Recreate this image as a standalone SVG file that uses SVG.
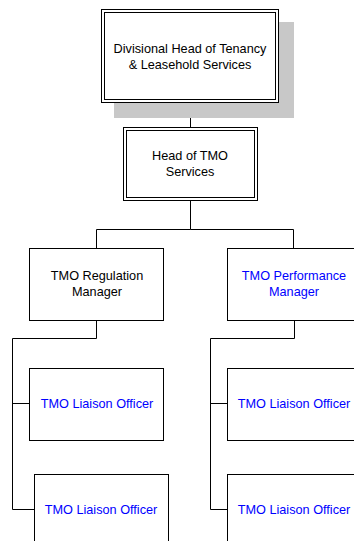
<svg xmlns="http://www.w3.org/2000/svg" width="354" height="541" viewBox="0 0 354 541">
<style>
.box{fill:#fff;stroke:#000;stroke-width:1}
.conn{fill:none;stroke:#000;stroke-width:1}
text{font-family:"Liberation Sans",Arial,sans-serif;font-size:12.7px;text-anchor:middle}
.k{fill:#000}
.b{fill:#0000ff}
</style>
<rect width="354" height="541" fill="#fff"/>
<g id="connectors">
<path class="conn" d="M190.5 103V128"/>
<path class="conn" d="M190.5 200V229.5H96.5V248M190.5 229.5H293.5V248"/>
<path class="conn" d="M96.5 320V338.5H12.5V509.5H34M12.5 403.5H29"/>
<path class="conn" d="M294.5 320V338.5H210.5V509.5H227M210.5 403.5H227"/>
</g>
<g id="n-divisional">
<rect x="114" y="22" width="180" height="96" fill="#c8c8c8"/>
<rect class="box" x="101.5" y="9.5" width="177" height="93"/>
<rect class="box" x="104.5" y="12.5" width="171" height="87"/>
<text class="k" x="190" y="53">Divisional Head of Tenancy</text>
<text class="k" x="190" y="69">&amp; Leasehold Services</text>
</g>
<g id="n-head-tmo">
<rect class="box" x="123.5" y="127.5" width="134" height="73"/>
<rect class="box" x="126.5" y="130.5" width="128" height="67"/>
<text class="k" x="190" y="160">Head of TMO</text>
<text class="k" x="190" y="176">Services</text>
</g>
<g id="n-regulation">
<rect class="box" x="29.5" y="248.5" width="134" height="72"/>
<text class="k" x="97" y="280">TMO Regulation</text>
<text class="k" x="97" y="296">Manager</text>
</g>
<g id="n-performance">
<rect class="box" x="227.5" y="248.5" width="134" height="72"/>
<text class="b" x="294" y="280">TMO Performance</text>
<text class="b" x="294" y="296">Manager</text>
</g>
<g id="n-liaison-1">
<rect class="box" x="29.5" y="368.5" width="134" height="72"/>
<text class="b" x="97" y="408">TMO Liaison Officer</text>
</g>
<g id="n-liaison-2">
<rect class="box" x="34.5" y="474.5" width="134" height="72"/>
<text class="b" x="101" y="514">TMO Liaison Officer</text>
</g>
<g id="n-liaison-3">
<rect class="box" x="227.5" y="368.5" width="134" height="72"/>
<text class="b" x="294" y="408">TMO Liaison Officer</text>
</g>
<g id="n-liaison-4">
<rect class="box" x="227.5" y="474.5" width="134" height="72"/>
<text class="b" x="294" y="514">TMO Liaison Officer</text>
</g>
</svg>
